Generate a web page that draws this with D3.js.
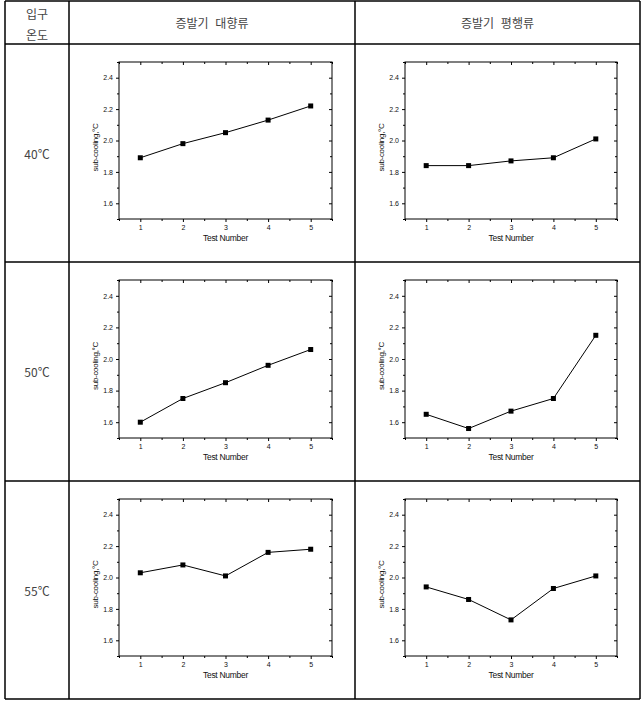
<!DOCTYPE html>
<html>
<head>
<meta charset="utf-8">
<script src="https://cdn.jsdelivr.net/npm/d3@7"></script>
<style>
  body { margin: 0; background: #fff; }
  svg { display: block; }
</style>
</head>
<body>
<svg id="chart" width="644" height="703"></svg>
<script>
// ---- data ----
const testNumbers = [1, 2, 3, 4, 5];
const rowLabels = ["40℃", "50℃", "55℃"];
const colLabels = ["증발기 대향류", "증발기 평행류"];
const cornerLabel = ["입구", "온도"];
const counterFlow40 = [1.89, 1.98, 2.05, 2.13, 2.22];
const parallelFlow40 = [1.84, 1.84, 1.87, 1.89, 2.01];
const counterFlow50 = [1.60, 1.75, 1.85, 1.96, 2.06];
const parallelFlow50 = [1.65, 1.56, 1.67, 1.75, 2.15];
const counterFlow55 = [2.03, 2.08, 2.01, 2.16, 2.18];
const parallelFlow55 = [1.94, 1.86, 1.73, 1.93, 2.01];
const yTicks = [1.6, 1.8, 2.0, 2.2, 2.4];
const yMinorTicks = [1.5, 1.7, 1.9, 2.1, 2.3, 2.5];
const xMinorTicks = [0.5, 1.5, 2.5, 3.5, 4.5, 5.5];
const xLabel = "Test Number";
const yLabel = "sub-cooling,°C";

const panels = [
  [counterFlow40, parallelFlow40],
  [counterFlow50, parallelFlow50],
  [counterFlow55, parallelFlow55]
];

// ---- layout ----
const svg = d3.select("#chart");
const colX = [5, 69, 355, 640];
const rowY = [1, 44, 262, 481, 699];

// table borders
const tbl = svg.append("g").attr("stroke", "#000").attr("stroke-width", 1.5);
colX.forEach(x => tbl.append("line").attr("x1", x).attr("x2", x).attr("y1", rowY[0]).attr("y2", rowY[rowY.length - 1]));
rowY.forEach(y => tbl.append("line").attr("x1", colX[0]).attr("x2", colX[colX.length - 1]).attr("y1", y).attr("y2", y));

const korFont = "'Noto Sans CJK KR', sans-serif";
const numFont = "'Liberation Sans', Arial, sans-serif";

// header
cornerLabel.forEach((t, i) => {
  svg.append("text").attr("x", (colX[0] + colX[1]) / 2).attr("y", 13 + i * 21)
    .attr("text-anchor", "middle").attr("dominant-baseline", "central")
    .attr("font-family", korFont).attr("font-size", 12).attr("fill", "#444").text(t);
});
colLabels.forEach((t, i) => {
  svg.append("text").attr("x", (colX[i + 1] + colX[i + 2]) / 2).attr("y", (rowY[0] + rowY[1]) / 2)
    .attr("text-anchor", "middle").attr("dominant-baseline", "central")
    .attr("font-family", korFont).attr("font-size", 12).attr("fill", "#444")
    .attr("word-spacing", 4).text(t);
});
rowLabels.forEach((t, i) => {
  svg.append("text").attr("x", (colX[0] + colX[1]) / 2).attr("y", (rowY[i + 1] + rowY[i + 2]) / 2)
    .attr("text-anchor", "middle").attr("dominant-baseline", "central")
    .attr("font-family", korFont).attr("font-size", 12).attr("fill", "#444").text(t);
});

// panels
panels.forEach((rowData, r) => {
  rowData.forEach((vals, c) => {
    const cx0 = colX[c + 1], cx1 = colX[c + 2];
    const cy0 = rowY[r + 1], cy1 = rowY[r + 2];
    const left = cx0 + 50, right = cx1 - 23;
    const top = cy0 + 18, bottom = cy1 - 43;
    const x = d3.scaleLinear().domain([0.5, 5.5]).range([left, right]);
    const y = d3.scaleLinear().domain([1.5, 2.5]).range([bottom, top]);
    const g = svg.append("g");

    // frame
    g.append("rect").attr("x", left).attr("y", top).attr("width", right - left).attr("height", bottom - top)
      .attr("fill", "none").attr("stroke", "#000").attr("stroke-width", 1);

    const styleAxis = sel => {
      sel.select(".domain").remove();
      sel.selectAll("line").attr("stroke", "#000");
      sel.selectAll("text").attr("font-family", numFont).attr("font-size", 7).attr("fill", "#111");
    };

    // bottom axis
    g.append("g").attr("transform", `translate(0,${bottom})`)
      .call(d3.axisBottom(x).tickValues(testNumbers).tickFormat(d3.format("d")).tickSize(3).tickPadding(3))
      .call(styleAxis);
    g.append("g").attr("transform", `translate(0,${bottom})`)
      .call(d3.axisBottom(x).tickValues(xMinorTicks).tickFormat("").tickSize(2))
      .call(styleAxis);
    // top axis (inward)
    g.append("g").attr("transform", `translate(0,${top})`)
      .call(d3.axisBottom(x).tickValues(testNumbers).tickFormat("").tickSize(3))
      .call(styleAxis);
    g.append("g").attr("transform", `translate(0,${top})`)
      .call(d3.axisBottom(x).tickValues(xMinorTicks).tickFormat("").tickSize(2))
      .call(styleAxis);
    // left axis
    g.append("g").attr("transform", `translate(${left},0)`)
      .call(d3.axisLeft(y).tickValues(yTicks).tickFormat(d3.format(".1f")).tickSize(3).tickPadding(3))
      .call(styleAxis);
    g.append("g").attr("transform", `translate(${left},0)`)
      .call(d3.axisLeft(y).tickValues(yMinorTicks).tickFormat("").tickSize(2))
      .call(styleAxis);
    // right axis (inward)
    g.append("g").attr("transform", `translate(${right},0)`)
      .call(d3.axisLeft(y).tickValues(yTicks).tickFormat("").tickSize(3))
      .call(styleAxis);
    g.append("g").attr("transform", `translate(${right},0)`)
      .call(d3.axisLeft(y).tickValues(yMinorTicks).tickFormat("").tickSize(2))
      .call(styleAxis);

    // axis titles
    g.append("text").attr("x", (left + right) / 2).attr("y", bottom + 19)
      .attr("text-anchor", "middle").attr("dominant-baseline", "central")
      .attr("font-family", numFont).attr("font-size", 8.5).attr("letter-spacing", -0.3)
      .attr("fill", "#111").text(xLabel);
    g.append("text")
      .attr("transform", `translate(${left - 24},${(top + bottom) / 2 + 7}) rotate(-90)`)
      .attr("text-anchor", "middle").attr("dominant-baseline", "central")
      .attr("font-family", numFont).attr("font-size", 8).attr("letter-spacing", -0.3)
      .attr("fill", "#111").text(yLabel);

    // line
    const line = d3.line().x((d, i) => x(testNumbers[i])).y(d => y(d));
    g.append("path").datum(vals).attr("d", line)
      .attr("fill", "none").attr("stroke", "#000").attr("stroke-width", 1);
    // markers
    const ms = 5;
    g.selectAll(".pt").data(vals).join("rect")
      .attr("x", (d, i) => x(testNumbers[i]) - ms / 2)
      .attr("y", d => y(d) - ms / 2)
      .attr("width", ms).attr("height", ms).attr("fill", "#000");
  });
});
</script>
</body>
</html>
